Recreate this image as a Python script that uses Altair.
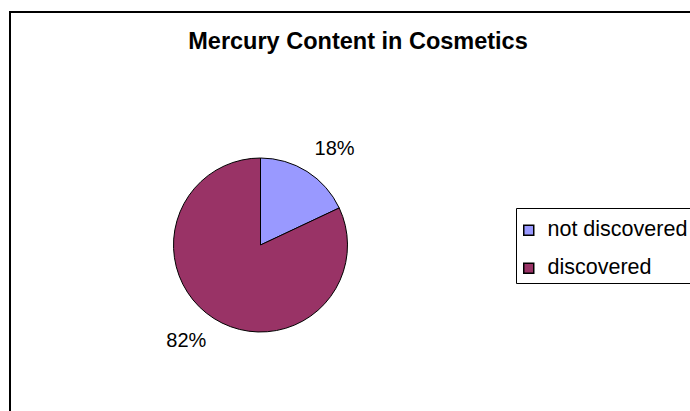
import altair as alt
import pandas as pd

title_text = "Mercury Content in Cosmetics"
categories = ["not discovered", "discovered"]
values = [18, 82]
labels = ["18%", "82%"]
colors = ["#9999FF", "#993366"]

df = pd.DataFrame({
    "category": categories,
    "value": values,
    "label": labels,
    "order": list(range(len(categories))),
})

FONT = "Liberation Sans"
CX, CY, R = 260.5, 245, 87

border = alt.Chart(pd.DataFrame({"d": [0]})).mark_rect(
    filled=False, stroke="black", strokeWidth=2
).encode(x=alt.value(10), y=alt.value(12), x2=alt.value(740), y2=alt.value(460))

legend_box = alt.Chart(pd.DataFrame({"d": [0]})).mark_rect(
    filled=False, stroke="black", strokeWidth=1
).encode(x=alt.value(516.5), y=alt.value(208.5), x2=alt.value(740), y2=alt.value(283.5))

title = alt.Chart(pd.DataFrame({"t": [title_text]})).mark_text(
    font=FONT, fontSize=23.5, fontWeight="bold", align="center", baseline="alphabetic", color="black"
).encode(text="t:N", x=alt.value(358), y=alt.value(48.7))

pie = alt.Chart(df).mark_arc(radius=R, stroke="black", strokeWidth=1).encode(
    theta=alt.Theta("value:Q", stack=True),
    order=alt.Order("order:Q"),
    color=alt.Color(
        "category:N",
        scale=alt.Scale(domain=categories, range=colors),
        sort=categories,
        legend=alt.Legend(
            orient="none", legendX=518, legendY=219.5, title=None,
            symbolType="square", symbolSize=100, symbolStrokeColor="black",
            symbolStrokeWidth=1.5, labelFont=FONT, labelFontSize=21.5, labelColor="black",
            rowPadding=15, labelOffset=8, padding=0,
        ),
    ),
    x=alt.value(CX), y=alt.value(CY),
)

text = alt.Chart(df).mark_text(radius=121, font=FONT, fontSize=20, color="black", baseline="middle", align="center").encode(
    theta=alt.Theta("value:Q", stack=True, scale=alt.Scale(range=[0.094, 6.2832 + 0.094])),
    order=alt.Order("order:Q"),
    text="label:N",
    x=alt.value(CX), y=alt.value(CY),
)

chart = alt.layer(border, legend_box, title, pie, text).resolve_scale(theta="independent").properties(
    width=690, height=411, autosize=alt.AutoSizeParams(type="none"), padding=0, background="white"
).configure_view(strokeWidth=0)

chart.save("out.html", embed_options={"renderer": "svg", "actions": False})
